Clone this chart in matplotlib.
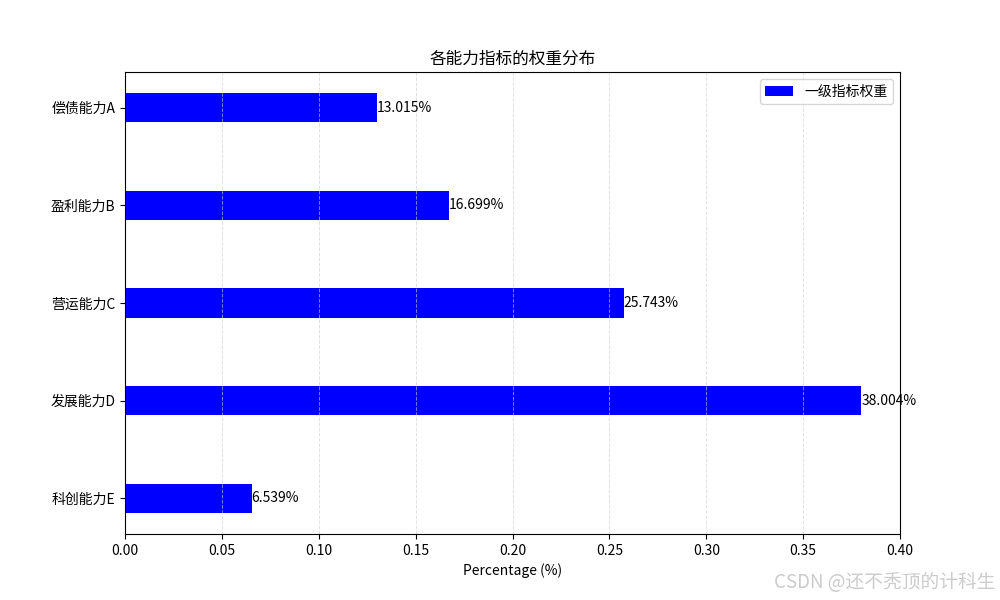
import matplotlib
matplotlib.use("Agg")
import matplotlib.pyplot as plt

plt.rcParams['font.family'] = ['Noto Sans CJK SC', 'DejaVu Sans']
plt.rcParams['axes.unicode_minus'] = False

categories = ['科创能力E', '发展能力D', '营运能力C', '盈利能力B', '偿债能力A']
weights = [0.06539, 0.38004, 0.25743, 0.16699, 0.13015]
xticks = [0.00, 0.05, 0.10, 0.15, 0.20, 0.25, 0.30, 0.35, 0.40]

fig, ax = plt.subplots(figsize=(10, 6), dpi=100)
bars = ax.barh(categories, weights, height=0.3, color='blue', label='一级指标权重')
for b, w in zip(bars, weights):
    ax.text(b.get_width(), b.get_y() + b.get_height() / 2, f'{w * 100:.3f}%',
            va='center', ha='left', fontsize=10)

ax.set_xlim(0, 0.4)
ax.set_xticks(xticks)
ax.set_xticklabels([f'{t:.2f}' for t in xticks])
ax.set_xlabel('Percentage (%)')
ax.set_title('各能力指标的权重分布')
ax.grid(axis='x', linestyle='--', alpha=0.6, color='#cccccc', linewidth=0.7)
ax.legend(loc='upper right')

fig.text(0.995, 0.012, 'CSDN @还不秃顶的计科生', ha='right', va='bottom',
         fontsize=13.5, color='#cccccc')

fig.savefig('out.png', dpi=100)
